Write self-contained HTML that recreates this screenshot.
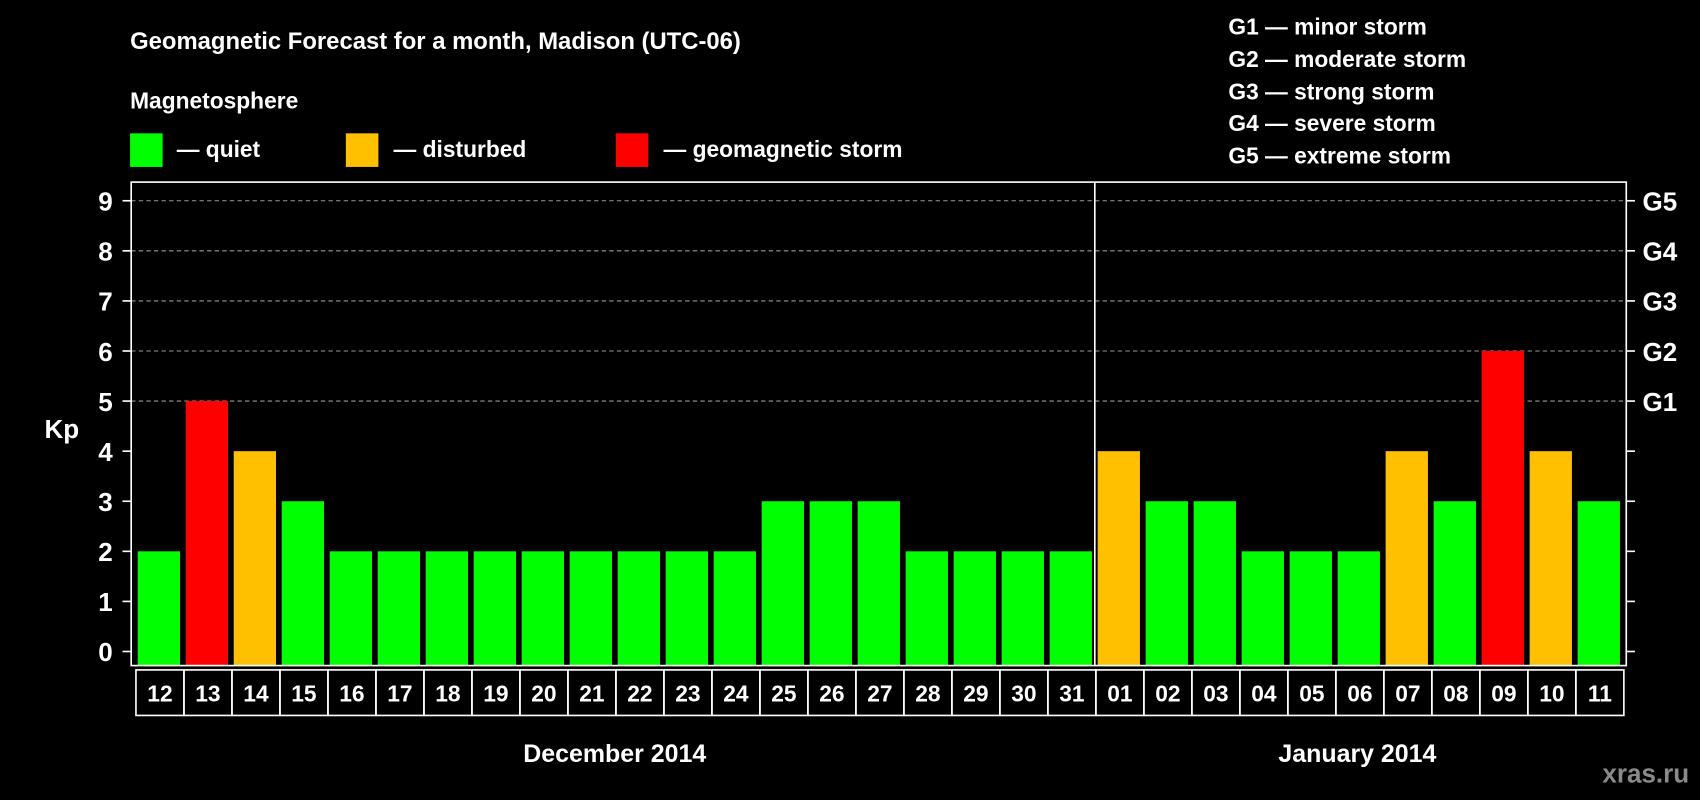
<!DOCTYPE html>
<html><head><meta charset="utf-8"><style>
html,body{margin:0;padding:0;background:#000;}
svg{display:block;font-family:"Liberation Sans",Arial,sans-serif;font-weight:bold;}
</style></head><body>
<svg id="chart" width="1700" height="800" viewBox="0 0 1568 738" preserveAspectRatio="none" xmlns="http://www.w3.org/2000/svg">
<rect x="0" y="0" width="1568" height="738" fill="#000"/>
<text x="120" y="45" fill="#fff" font-size="22">Geomagnetic Forecast for a month, Madison (UTC-06)</text>
<text x="120" y="100" fill="#fff" font-size="21">Magnetosphere</text>
<g><rect x="120" y="123" width="30" height="31" fill="#00ff00"/><text x="163" y="145" fill="#fff" font-size="21">— quiet</text></g>
<g><rect x="319" y="123" width="30" height="31" fill="#ffc000"/><text x="363" y="145" fill="#fff" font-size="21">— disturbed</text></g>
<g><rect x="568" y="123" width="30" height="31" fill="#ff0000"/><text x="612" y="145" fill="#fff" font-size="21">— geomagnetic storm</text></g>
<g fill="#fff" font-size="21">
<text x="1133" y="32">G1 — minor storm</text>
<text x="1133" y="62">G2 — moderate storm</text>
<text x="1133" y="92">G3 — strong storm</text>
<text x="1133" y="121">G4 — severe storm</text>
<text x="1133" y="151">G5 — extreme storm</text>
</g>
<text x="57" y="404" fill="#fff" font-size="24" text-anchor="middle">Kp</text>
<g id="grid"></g>
<g id="bars"></g>
<rect x="121" y="168" width="1379" height="446" fill="none" stroke="#fff" stroke-width="1.5"/>
<g id="axes"></g>
<text x="567" y="703" fill="#fff" font-size="23" text-anchor="middle">December 2014</text>
<text x="1252" y="703" fill="#fff" font-size="23" text-anchor="middle">January 2014</text>
<text x="1558" y="722" fill="#8a8a8a" font-size="24" text-anchor="end">xras.ru</text>
</svg>
<script>
const days = ["12","13","14","15","16","17","18","19","20","21","22","23","24","25","26","27","28","29","30","31","01","02","03","04","05","06","07","08","09","10","11"];
const kpValues = [2,5,4,3,2,2,2,2,2,2,2,2,2,3,3,3,2,2,2,2,4,3,3,2,2,2,4,3,6,4,3];
const yTicks = [0,1,2,3,4,5,6,7,8,9];
const gLabels = ["G1","G2","G3","G4","G5"];
const monthBreakIndex = 20;

const NS = "http://www.w3.org/2000/svg";
const x0 = 124.4, slot = 44.27, barW = 39;
const yScale = v => 601 - v * 46.2;
const xSlot = i => x0 + i * slot;
function mk(tag, attrs, parent) {
  const e = document.createElementNS(NS, tag);
  for (const k in attrs) e.setAttribute(k, attrs[k]);
  parent.appendChild(e);
  return e;
}
const grid = document.getElementById('grid');
const bars = document.getElementById('bars');
const axes = document.getElementById('axes');

yTicks.forEach(t => {
  const y = yScale(t);
  if (t >= 5) {
    const l = mk('line', {x1:121, x2:1500, y1:y, y2:y, stroke:'#999', 'stroke-width':1, 'stroke-dasharray':'4,3'}, grid);
    
    
  }
  const lt = mk('line', {x1:113, x2:121, y1:y, y2:y, stroke:'#fff', 'stroke-width':1.5}, axes);
  
  
  const rt = mk('line', {x1:1500, x2:1508, y1:y, y2:y, stroke:'#fff', 'stroke-width':1.5}, axes);
  
  
  const lab = mk('text', {x:104, y:y+9, fill:'#fff', 'font-size':24, 'text-anchor':'end'}, axes);
  lab.textContent = t;
  
  
  if (t >= 5) {
    const g = mk('text', {x:1515, y:y+9, fill:'#fff', 'font-size':24}, axes);
    g.textContent = gLabels[t - 5];
    
    
  }
});

kpValues.forEach((v, i) => {
  const color = v >= 5 ? '#ff0000' : (v >= 4 ? '#ffc000' : '#00ff00');
  const cx = xSlot(i) + slot / 2;
  const b = mk('rect', {x:cx - barW/2, y:yScale(v), width:barW, height:yScale(0) + 13 - yScale(v), fill:color}, bars);
  
  
  const box = mk('rect', {x:xSlot(i) + 1, y:618, width:slot, height:42, fill:'none', stroke:'#fff', 'stroke-width':1.5}, axes);
  
  
  const t = mk('text', {x:cx + 1, y:647, fill:'#fff', 'font-size':21, 'text-anchor':'middle'}, axes);
  t.textContent = days[i];
  
  
});

const sepX = xSlot(monthBreakIndex);
const sep = mk('line', {x1:sepX, x2:sepX, y1:168, y2:614, stroke:'#fff', 'stroke-width':1.5}, axes);


</script>
</body></html>
